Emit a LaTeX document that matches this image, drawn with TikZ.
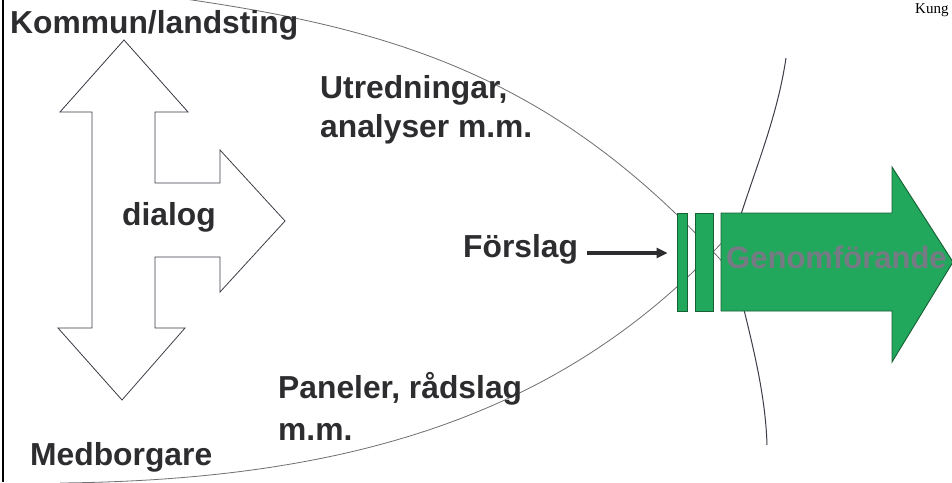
\documentclass[tikz,border=0pt]{standalone}
\usepackage{fontspec}
\setmainfont{Liberation Sans}
\newfontfamily\serifsmall{Liberation Serif}
\usetikzlibrary{arrows.meta}
\definecolor{txtgray}{RGB}{45,45,48}
\definecolor{gfill}{RGB}{34,168,92}
\definecolor{gline}{RGB}{22,96,52}
\definecolor{gtext}{RGB}{118,122,132}
\definecolor{curvegray}{RGB}{110,110,115}
\definecolor{curvedark}{RGB}{60,62,72}
\tikzset{
  lbl/.style={inner sep=0pt, anchor=base west, text=txtgray, font=\bfseries\fontsize{31.8}{37}\selectfont},
  greenbar/.style={draw=gline, line width=0.9pt, fill=gfill, rectangle, inner sep=0pt},
  lens/.style={draw=curvegray, line width=0.8pt},
  rcurve/.style={draw=curvedark, line width=1pt},
  hshape/.style={draw=curvedark, line width=0.8pt, fill=white, line join=miter},
  farrow/.style={draw=txtgray, line width=3.2pt, -{Triangle[length=11pt,width=10pt]}}
}
\begin{document}
\begin{tikzpicture}[x=1pt,y=-1pt]
\useasboundingbox (0,0) rectangle (952,482);
\fill[white] (0,0) rectangle (952,482);
% left border
\draw[black, line width=2pt] (3,0) -- (3,482);
% lens curves
\draw[lens] (185,-1) .. controls (400,30) and (560,80) .. (728,268);
\draw[lens] (60,483) .. controls (350,480) and (565,415) .. (728,236);
% right curve
\draw[rcurve] (786,58) .. controls (776,125) and (750,180) .. (730,250);
\draw[rcurve] (730,250) .. controls (745,320) and (765,380) .. (767,445);
% H-shaped dialog arrow
\draw[hshape] (155,183) -- (220,183) -- (220,150) -- (285,221) -- (220,292) -- (220,257)
  -- (155,257) -- (155,328) -- (185,328) -- (122,400) -- (58,328) -- (92,328)
  -- (92,112) -- (60,112) -- (124,40) -- (188,112) -- (155,112) -- cycle;
% green bars and arrow
\node[greenbar, minimum width=10pt, minimum height=98pt] (bar1) at (682,262) {};
\node[greenbar, minimum width=18pt, minimum height=98pt] (bar2) at (704,262) {};
\draw[draw=gline, line width=0.9pt, fill=gfill, line join=miter]
  (721,213) -- (892,213) -- (892,167) -- (953,262) -- (892,362) -- (892,311) -- (721,311) -- cycle;
\node[inner sep=0pt, anchor=base west, text=gtext, font=\bfseries\fontsize{31}{37}\selectfont] (genom) at (726,268) {Genomförande};
% labels
\node[lbl] (kommun) at (10,33) {Kommun/landsting};
\node[lbl] (dialog) at (122,225) {dialog};
\node[lbl] (utred) at (320,98) {Utredningar,};
\node[lbl] (analys) at (320,137) {analyser m.m.};
\node[lbl] (forslag) at (463,257) {Förslag};
\node[lbl] (panel) at (278,398) {Paneler, rådslag};
\node[lbl] (mm) at (278,440) {m.m.};
\node[lbl] (medb) at (30,465) {Medborgare};
\node[inner sep=0pt, anchor=base west, text=black, font=\serifsmall\fontsize{15}{17}\selectfont] (kung) at (915,13) {Kung};
% Förslag arrow
\coordinate (fs) at (587,253);
\draw[farrow, shorten >=9pt] (fs) -- (fs -| bar1.west);
\end{tikzpicture}
\end{document}
